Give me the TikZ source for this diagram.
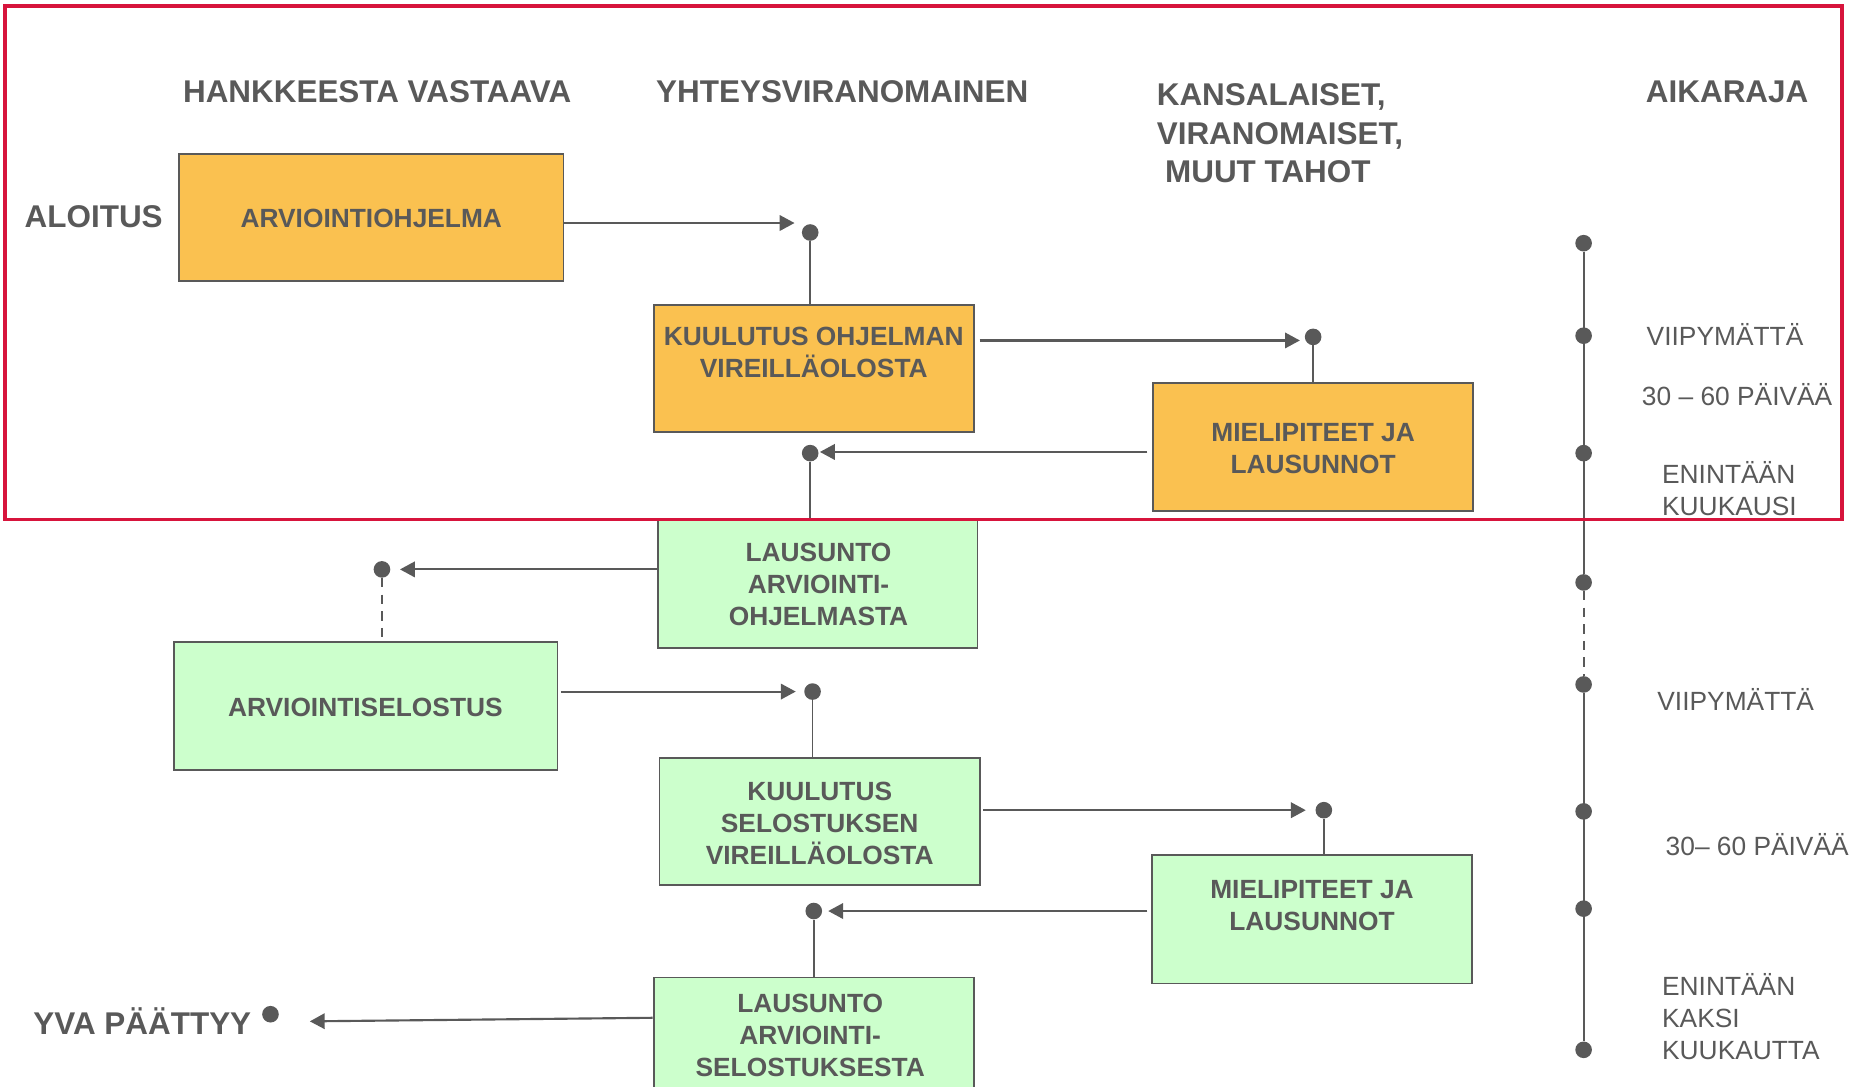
\documentclass[tikz,border=0pt]{standalone}
\usepackage{fontspec}
\setmainfont{Liberation Sans}
\usetikzlibrary{arrows.meta,shapes.geometric,calc}
\definecolor{txt}{RGB}{89,89,89}
\definecolor{orangefill}{RGB}{250,193,80}
\definecolor{greenfill}{RGB}{204,255,204}
\definecolor{frame}{RGB}{215,20,60}
\begin{document}
\begin{tikzpicture}[x=1pt,y=-1pt,
  hd/.style={font=\fontsize{26.5}{32.5}\selectfont\bfseries, text=txt, inner sep=0pt},
  bt/.style={font=\fontsize{22.2}{27}\selectfont\bfseries, text=txt, align=center, inner sep=0pt},
  tl/.style={font=\fontsize{22.2}{27}\selectfont, text=txt, align=left, anchor=west, inner sep=0pt},
  boxbase/.style={rectangle, draw=txt, line width=1.5pt, inner sep=0pt, minimum width=270pt, minimum height=107pt},
  obox/.style={boxbase, fill=orangefill},
  gbox/.style={boxbase, fill=greenfill},
  dot/.style={ellipse, fill=txt, inner sep=0pt, minimum width=14pt, minimum height=14pt},
  arr/.style={draw=txt, line width=1.8pt, -{Triangle[length=12.5pt,width=13pt]}},
  ln/.style={draw=txt, line width=1.5pt},
  dsh/.style={draw=txt, line width=1.5pt, dash pattern=on 8pt off 6pt}
]
\clip (0,0) rectangle (1568,916);
\fill[white] (0,0) rectangle (1568,916);

% headings
\node[hd] (h1) at (318,77) {HANKKEESTA VASTAAVA};
\node[hd] (h2) at (710,77) {YHTEYSVIRANOMAINEN};
\node[hd, align=left, anchor=west] (h3) at (975,112.5) {KANSALAISET,\\VIRANOMAISET,\\\hspace*{7pt}MUUT TAHOT};
\node[hd] (h4) at (1456,77) {AIKARAJA};
\node[hd] (aloitus) at (79,183) {ALOITUS};
\node[hd] (yva) at (120,861) {YVA PÄÄTTYY};

% boxes
\node[obox, minimum width=324pt] (b1) at (313,183.5) {};
\node[bt] (t1) at (313,184) {ARVIOINTIOHJELMA};
\node[obox] (b2) at (686,310.5) {};
\node[bt] (t2) at (686,297.5) {KUULUTUS OHJELMAN\\VIREILLÄOLOSTA};
\node[obox, minimum height=108pt] (b3) at (1107,377) {};
\node[bt] (t3) at (1107,378.5) {MIELIPITEET JA\\LAUSUNNOT};
\node[gbox, minimum width=269pt, minimum height=108pt] (b4) at (689.5,492) {};
\node[bt] (t4) at (690,493) {LAUSUNTO\\ARVIOINTI-\\OHJELMASTA};
\node[gbox, minimum width=323pt, minimum height=108pt] (b5) at (308.5,595) {};
\node[bt] (t5) at (308,596) {ARVIOINTISELOSTUS};
\node[gbox] (b6) at (691,692.5) {};
\node[bt] (t6) at (691,694) {KUULUTUS\\SELOSTUKSEN\\VIREILLÄOLOSTA};
\node[gbox, minimum height=108pt] (b7) at (1106,775) {};
\node[bt] (t7) at (1106,763.5) {MIELIPITEET JA\\LAUSUNNOT};
\node[gbox, minimum height=108pt] (b8) at (686,878) {};
\node[bt] (t8) at (683,872.5) {LAUSUNTO\\ARVIOINTI-\\SELOSTUKSESTA};

% dots
\node[dot] (d1) at (683,196) {};
\node[dot] (d2) at (1107,284) {};
\node[dot] (d3) at (683,382) {};
\node[dot] (d4) at (322,480) {};
\node[dot] (d5) at (685,583) {};
\node[dot] (d6) at (1116,683) {};
\node[dot] (d7) at (686,768) {};
\node[dot] (d8) at (228,855) {};

% connectors
\draw[arr] ([yshift=-4.5pt]b1.east) -- ([xshift=-6pt,yshift=8pt]d1.west);
\draw[ln] (d1) -- (d1 |- b2.north);
\draw[arr] ([xshift=4pt,yshift=23.5pt]b2.east) -- ([xshift=-4pt,yshift=-3pt]d2.west);
\draw[ln] (d2) -- (d2 |- b3.north);
\draw[arr] ([xshift=-4pt,yshift=-4pt]b3.west) -- ([xshift=1pt,yshift=1pt]d3.east);
\draw[ln] (d3) -- (d3 |- b4.north);
\draw[arr] ([yshift=12pt]b4.west) -- ([xshift=8pt]d4.east);
\draw[dsh] (d4) -- (d4 |- b5.north);
\draw[arr] ([xshift=2pt,yshift=12pt]b5.east) -- ([xshift=-7pt]d5.west);
\draw[ln] (d5) -- (d5 |- b6.north);
\draw[arr] ([xshift=2pt,yshift=9.5pt]b6.east) -- ([xshift=-8pt]d6.west);
\draw[ln] (d6) -- (d6 |- b7.north);
\draw[arr] ([xshift=-3pt,yshift=7pt]b7.west) -- ([xshift=5pt]d7.east);
\draw[ln] (d7) -- (d7 |- b8.north);
\draw[arr] ([yshift=20pt]b8.west) -- ([xshift=26pt,yshift=-6pt]d8.east);

% timeline
\node[dot] (T1) at (1335,205) {};
\node[dot] (T2) at (1335,283) {};
\node[dot] (T3) at (1335,382) {};
\node[dot] (T4) at (1335,491) {};
\node[dot] (T5) at (1335,577) {};
\node[dot] (T6) at (1335,684) {};
\node[dot] (T7) at (1335,766) {};
\node[dot] (T8) at (1335,885) {};
\draw[ln] (T1) -- (T4);
\draw[dsh] (T4) -- (T5);
\draw[ln] (T5) -- (T8);

% timeline labels
\node[tl] (l1) at (1388,282) {VIIPYMÄTTÄ};
\node[tl] (l2) at (1384,333) {30 – 60 PÄIVÄÄ};
\node[tl] (l3) at (1401,411.5) {ENINTÄÄN\\KUUKAUSI};
\node[tl] (l4) at (1397,590) {VIIPYMÄTTÄ};
\node[tl] (l5) at (1404,712) {30– 60 PÄIVÄÄ};
\node[tl] (l6) at (1401,857) {ENINTÄÄN\\KAKSI\\KUUKAUTTA};

% red frame
\draw[frame, line width=3pt] (4,5) rectangle (1553,438);
\end{tikzpicture}
\end{document}
